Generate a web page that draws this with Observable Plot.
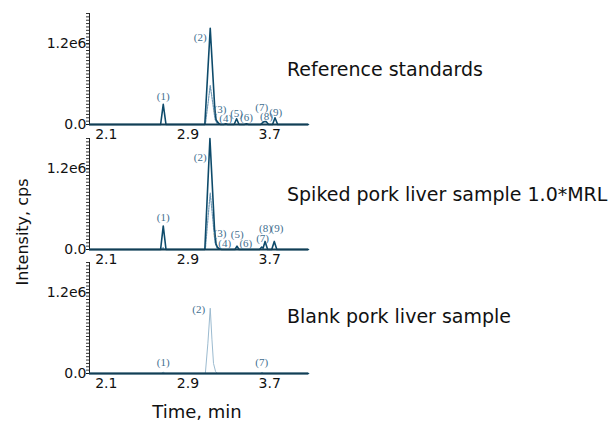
<!DOCTYPE html>
<html><head><meta charset="utf-8">
<script src="https://cdn.jsdelivr.net/npm/d3@7"></script>
<script src="https://cdn.jsdelivr.net/npm/@observablehq/plot@0.6"></script>
<style>
body{margin:0;background:#fff;}
#root{position:relative;width:612px;height:422px;font-family:"DejaVu Sans",sans-serif;overflow:hidden;background:#fff}
.panel{position:absolute;left:0}
.cap{position:absolute;left:287px;font-size:19px;color:#111;white-space:nowrap;transform:translateY(-50%)}
.ytitle{position:absolute;left:22px;top:232px;font-size:16px;color:#111;white-space:nowrap;transform:translate(-50%,-50%) rotate(-90deg)}
.xtitle{position:absolute;left:197px;top:411px;font-size:18px;color:#111;white-space:nowrap;transform:translate(-50%,-50%)}
</style></head><body><div id="root"></div>
<script>
// ---- axes ----
const xDomain = [1.936, 4.08];
const yDomain = [0, 1.65e6];
const xTicks = [2.1, 2.9, 3.7];
const yTicks = [0, 1.2e6];
const yTickLabels = ["0.0", "1.2e6"];
const panelTitles = ["Reference standards", "Spiked pork liver sample 1.0*MRL", "Blank pork liver sample"];
const xTitle = "Time, min";
const yTitle = "Intensity, cps";

// ---- Panel 1: reference standards ----
const refMainTime = [1.936, 2.632, 2.658, 2.685, 3.065, 3.118, 3.162, 3.175, 3.19, 3.205, 3.22, 3.25, 3.27, 3.29, 3.352, 3.376, 3.40, 3.45, 3.473, 3.495, 3.61, 3.64, 3.665, 3.69, 3.728, 3.752, 3.778, 4.08];
const refMainInt  = [0, 0, 0.30e6, 0, 0, 1.43e6, 0.25e6, 0.07e6, 0.035e6, 0.01e6, 0, 0, 0.012e6, 0, 0, 0.085e6, 0, 0, 0.01e6, 0, 0, 0.04e6, 0.045e6, 0, 0, 0.10e6, 0, 0];
const refDotTime = [3.07, 3.095, 3.118, 3.14, 3.165, 3.19];
const refDotInt  = [0, 0.30e6, 0.58e6, 0.35e6, 0.08e6, 0];
const refLabelText = ["(1)", "(2)", "(3)", "(4)", "(5)", "(6)", "(7)", "(8)", "(9)"];
const refLabelTime = [2.658, 3.02, 3.213, 3.27, 3.376, 3.473, 3.622, 3.668, 3.759];
const refLabelInt  = [0.42e6, 1.30e6, 0.22e6, 0.094e6, 0.17e6, 0.11e6, 0.25e6, 0.125e6, 0.175e6];

// ---- Panel 2: spiked pork liver ----
const spkMainTime = [1.936, 2.632, 2.658, 2.685, 3.065, 3.115, 3.16, 3.175, 3.19, 3.21, 3.23, 3.36, 3.38, 3.40, 3.60, 3.622, 3.635, 3.655, 3.68, 3.72, 3.745, 3.77, 4.08];
const spkMainInt  = [0, 0, 0.35e6, 0, 0, 1.65e6, 0.30e6, 0.08e6, 0.03e6, 0.01e6, 0, 0, 0.05e6, 0, 0, 0.035e6, 0.02e6, 0.12e6, 0, 0, 0.12e6, 0, 0];
const spkDotTime = [2.64, 2.655, 2.67, 3.07, 3.095, 3.118, 3.14, 3.165, 3.19];
const spkDotInt  = [0, 0.03e6, 0, 0, 0.45e6, 0.84e6, 0.50e6, 0.10e6, 0];
const spkLabelText = ["(1)", "(2)", "(3)", "(4)", "(5)", "(6)", "(7)", "(8)", "(9)"];
const spkLabelTime = [2.657, 3.02, 3.213, 3.26, 3.382, 3.466, 3.63, 3.659, 3.771];
const spkLabelInt  = [0.47e6, 1.37e6, 0.235e6, 0.095e6, 0.225e6, 0.095e6, 0.16e6, 0.32e6, 0.32e6];

// ---- Panel 3: blank pork liver ----
const blkMainTime = [1.936, 4.08];
const blkMainInt  = [0, 0];
const blkDotTime = [2.64, 2.657, 2.675, 3.07, 3.095, 3.118, 3.135, 3.15, 3.17, 3.19, 3.61, 3.625, 3.64];
const blkDotInt  = [0, 0.02e6, 0, 0, 0.45e6, 0.97e6, 0.50e6, 0.15e6, 0.03e6, 0, 0, 0.02e6, 0];
const blkLabelText = ["(1)", "(2)", "(7)"];
const blkLabelTime = [2.657, 3.005, 3.622];
const blkLabelInt  = [0.16e6, 0.945e6, 0.16e6];

const minorTicks = d3.range(0, yDomain[1] + 1, 0.05e6);
const zip = (t, v) => t.map((x, i) => ({t: x, v: v[i]}));

function panel(mainT, mainV, dotT, dotV, lblText, lblT, lblV, dotStyle) {
  const lbls = lblText.map((s, i) => ({s, t: lblT[i], v: lblV[i]}));
  return Plot.plot({
    width: 612, height: 140,
    marginLeft: 89, marginRight: 304, marginTop: 13, marginBottom: 16,
    x: {domain: xDomain, label: null},
    y: {domain: yDomain, label: null},
    style: {background: "transparent", overflow: "visible", fontFamily: "DejaVu Sans", fontSize: "14px", color: "#111"},
    marks: [
      Plot.axisY(minorTicks, {tickSize: 3, tickFormat: () => "", label: null, stroke: "#333"}),
      Plot.axisY(yTicks, {tickSize: 3, tickPadding: 0, label: null, tickFormat: d => yTickLabels[yTicks.indexOf(d)], fontSize: 14}),
      Plot.axisX(xTicks, {tickSize: 0, tickPadding: 5, label: null, tickFormat: d => d.toFixed(1), fontSize: 14}),
      Plot.ruleX([xDomain[0]], {stroke: "#222", strokeWidth: 1}),
      Plot.line(zip(dotT, dotV), {x: "t", y: "v", ...dotStyle}),
      Plot.line(zip(mainT, mainV), {x: "t", y: "v", stroke: "#0e4b6b", strokeWidth: 1.6}),
      Plot.ruleY([0], {stroke: "#123e55", strokeWidth: 2}),
      Plot.text(lbls, {x: "t", y: "v", text: "s", fontFamily: "Liberation Serif", fontSize: 11, fill: "#3f6f90"})
    ]
  });
}

const root = document.getElementById("root");
const dotted = {stroke: "#6f98b5", strokeWidth: 1.2, strokeDasharray: "1.5,1.2"};
const light = {stroke: "#9cbbd0", strokeWidth: 1};
const panels = [
  panel(refMainTime, refMainInt, refDotTime, refDotInt, refLabelText, refLabelTime, refLabelInt, dotted),
  panel(spkMainTime, spkMainInt, spkDotTime, spkDotInt, spkLabelText, spkLabelTime, spkLabelInt, dotted),
  panel(blkMainTime, blkMainInt, blkDotTime, blkDotInt, blkLabelText, blkLabelTime, blkLabelInt, light)
];
const tops = [0, 125, 249];
const capTops = [69, 194, 316];
panels.forEach((p, i) => {
  p.classList.add("panel");
  p.style.top = tops[i] + "px";
  root.appendChild(p);
  const c = document.createElement("div");
  c.className = "cap";
  c.style.top = capTops[i] + "px";
  c.textContent = panelTitles[i];
  root.appendChild(c);
});
const yt = document.createElement("div"); yt.className = "ytitle"; yt.textContent = yTitle; root.appendChild(yt);
const xt = document.createElement("div"); xt.className = "xtitle"; xt.textContent = xTitle; root.appendChild(xt);
</script></body></html>
